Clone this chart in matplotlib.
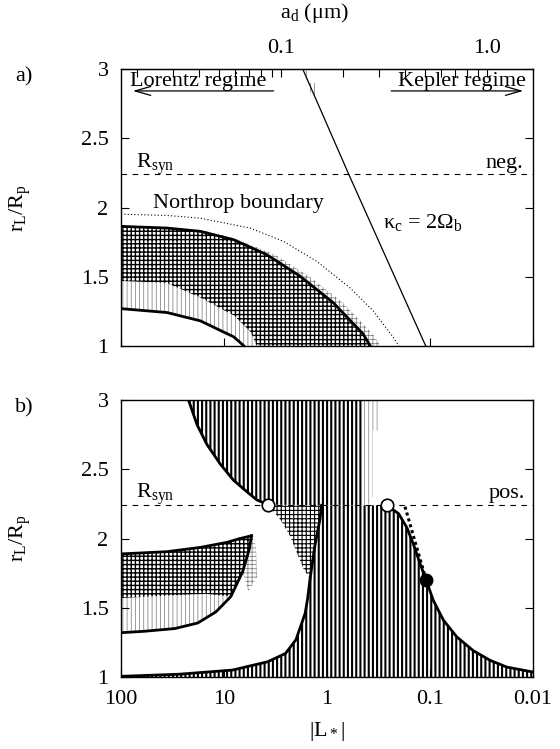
import numpy as np
import matplotlib.pyplot as plt

plt.rcParams['font.family'] = ['Liberation Serif', 'DejaVu Serif']
plt.rcParams['mathtext.fontset'] = 'custom'
plt.rcParams['mathtext.rm'] = 'Liberation Serif'
plt.rcParams['mathtext.it'] = 'Liberation Serif:italic'
plt.rcParams['font.size'] = 16

# ---------------- data (L = |L*|, r = r_L/R_p) ----------------
R_SYN = 2.24

# panel a) negative grains
north_L = [100, 35.8, 17.0, 5.57, 2.65, 1.26, 0.60, 0.356, 0.227, 0.20]
north_r = [1.952, 1.943, 1.923, 1.852, 1.756, 1.612, 1.421, 1.254, 1.062, 1.0]
outer_a_L = [100, 35.8, 17.0, 8.09, 3.85, 1.83, 0.87, 0.445, 0.38]
outer_a_r = [1.864, 1.852, 1.828, 1.768, 1.660, 1.505, 1.313, 1.086, 1.0]
inner_a_L = [100, 35.8, 17.0, 8.09, 7.2, 6.4]
inner_a_r = [1.270, 1.242, 1.182, 1.067, 1.035, 1.0]
mid_a_L = [100, 36, 17, 8, 5.5, 4.8]
mid_a_r = [1.47, 1.455, 1.35, 1.22, 1.10, 1.0]
fringe_a_L = [100, 17, 8.1, 3.2, 1.5, 0.70, 0.36, 0.30]
fringe_a_r = [1.87, 1.84, 1.78, 1.66, 1.505, 1.313, 1.086, 1.0]
kap_L = [1.72, 0.61, 0.11]
kap_r = [3.0, 2.234, 1.0]
kap_fr_L = [1.72, 1.45, 1.45, 1.30, 1.30, 1.40]
kap_fr_r = [3.0, 3.0, 2.9, 2.9, 2.80, 2.80]

# panel b) positive grains
lobe_up_L = [100, 35.8, 17, 9.4, 7.0, 5.4]
lobe_up_r = [1.889, 1.905, 1.936, 1.972, 2.0, 2.02]
lobe_lo_L = [5.4, 5.7, 6.6, 8.6, 12, 18, 30, 60, 100]
lobe_lo_r = [2.02, 1.92, 1.76, 1.58, 1.47, 1.39, 1.35, 1.33, 1.32]
lobe_mid_L = [8.6, 15, 30, 100]
lobe_mid_r = [1.58, 1.60, 1.59, 1.57]
lobe_fr_L = [5.4, 4.9, 4.8, 5.8, 6.6, 5.7]
lobe_fr_r = [2.02, 1.95, 1.72, 1.62, 1.76, 1.92]

upleft_L = [22.1, 18.3, 14.7, 10.9, 8.09, 6.0, 4.81, 3.71]
upleft_r = [3.0, 2.823, 2.681, 2.539, 2.421, 2.338, 2.279, 2.244]
block_edge_L = 0.45
block_fr_L = [0.45, 0.32, 0.32, 0.36, 0.36, 0.40, 0.45]
block_fr_r = [3.0, 3.0, 2.78, 2.78, 2.30, 2.24, 2.24]

bot_L = [100, 27.6, 8.3, 3.77, 2.53, 2.0, 1.63, 1.54, 1.46, 1.31, 1.17, 1.13]
bot_r = [1.005, 1.02, 1.05, 1.11, 1.17, 1.27, 1.46, 1.57, 1.71, 1.95, 2.14, 2.24]
right_L = [0.264, 0.202, 0.168, 0.145, 0.125, 0.109, 0.093, 0.074, 0.055, 0.038, 0.026, 0.018, 0.01]
right_r = [2.24, 2.18, 2.08, 1.96, 1.82, 1.70, 1.554, 1.41, 1.29, 1.19, 1.12, 1.072, 1.036]

wedge_L = [3.71, 2.86, 2.29, 1.97, 1.69, 1.46, 1.31, 1.17, 1.13]
wedge_r = [2.24, 2.14, 2.02, 1.90, 1.78, 1.71, 1.95, 2.14, 2.24]

dot_L = [0.175, 0.109]
dot_r = [2.23, 1.70]
open_L = [3.71, 0.264]
open_r = [2.24, 2.24]
filled_L = [0.109]
filled_r = [1.70]

yticks = [1, 1.5, 2, 2.5, 3]
ytick_labels = ['1', '1.5', '2', '2.5', '3']
xticks = [100, 10, 1, 0.1, 0.01]
xtick_labels = ['100', '10', '1', '0.1', '0.01']
ad_major = [0.1, 1.0]
ad_labels = ['0.1', '1.0']
ad_minor = [0.02, 0.03, 0.04, 0.05, 0.06, 0.07, 0.08, 0.09,
            0.2, 0.3, 0.4, 0.5, 0.6, 0.7, 0.8, 0.9, 2.0]


def hatched(ax, L, r, hatch, color='k', lw=0.8, z=1):
    p = ax.fill(L, r, facecolor='none', edgecolor=color, hatch=hatch,
                linewidth=0, zorder=z)[0]
    try:
        p.set_hatch_linewidth(lw)
    except AttributeError:
        pass
    return p


def frame(ax):
    ax.set_xscale('log')
    ax.set_xlim(100, 0.01)
    ax.set_ylim(1, 3)
    ax.set_yticks(yticks, ytick_labels)
    ax.set_xticks(xticks, xtick_labels)
    ax.minorticks_off()
    ax.tick_params(direction='in', length=6, width=0.8, right=True, pad=9)
    for s in ax.spines.values():
        s.set_linewidth(1.0)
    ax.axhline(R_SYN, color='k', lw=0.8, ls=(0, (5, 5)), zorder=3)


fig = plt.figure(figsize=(5.6, 7.49), dpi=100)
ax_a = fig.add_axes([0.2161, 0.538, 0.7357, 0.3698])
ax_b = fig.add_axes([0.2161, 0.0961, 0.7357, 0.3698])

# ---------------- panel a ----------------
frame(ax_a)
ax_a.tick_params(labelbottom=False)

dark_L = outer_a_L + mid_a_L[::-1]
dark_r = outer_a_r + mid_a_r[::-1]
hatched(ax_a, dark_L, dark_r, '++++', lw=1.0)
light_L = mid_a_L + inner_a_L[::-1]
light_r = mid_a_r + inner_a_r[::-1]
hatched(ax_a, light_L, light_r, '||||', color='0.45', lw=0.5)
hatched(ax_a, outer_a_L + fringe_a_L[::-1], outer_a_r + fringe_a_r[::-1],
        '++++', color='0.45', lw=0.5)
hatched(ax_a, kap_fr_L, kap_fr_r, '||||', color='0.45', lw=0.5)

ax_a.plot(north_L, north_r, color='k', lw=0.8, ls=(0, (1, 2)), zorder=4)
ax_a.plot(outer_a_L, outer_a_r, color='k', lw=2.0, zorder=5)
ax_a.plot(inner_a_L, inner_a_r, color='k', lw=2.0, zorder=5)
ax_a.plot(kap_L, kap_r, color='k', lw=0.9, zorder=5)

ax_a.text(0.037, 2.285, r'R$_\mathrm{syn}$', transform=ax_a.get_yaxis_transform(),
          ha='left', va='baseline')
ax_a.text(0.977, 2.285, 'neg.', transform=ax_a.get_yaxis_transform(),
          ha='right', va='baseline')
ax_a.text(0.078, 2.0, 'Northrop boundary', transform=ax_a.get_yaxis_transform(),
          ha='left', va='baseline')
ax_a.text(0.635, 1.85, r'κ$_\mathrm{c}$ = 2Ω$_\mathrm{b}$',
          transform=ax_a.get_yaxis_transform(), ha='left', va='baseline')

ax_a.text(0.022, 0.94, 'Lorentz regime', transform=ax_a.transAxes,
          ha='left', va='baseline')
ax_a.annotate('', xy=(0.022, 0.921), xytext=(0.377, 0.921), xycoords='axes fraction',
              arrowprops=dict(arrowstyle='->,head_length=0.7,head_width=0.2', lw=0.9))
ax_a.text(0.983, 0.94, 'Kepler regime', transform=ax_a.transAxes,
          ha='right', va='baseline')
ax_a.annotate('', xy=(0.983, 0.921), xytext=(0.649, 0.921), xycoords='axes fraction',
              arrowprops=dict(arrowstyle='->,head_length=0.7,head_width=0.2', lw=0.9))

# grain radius axis on top: a_d ~ L^-1/2
L0 = 2.8
top = ax_a.secondary_xaxis('top', functions=(lambda L: 0.1 * np.sqrt(L0 / np.clip(L, 1e-9, None)),
                                              lambda a: L0 * (0.1 / np.clip(a, 1e-9, None)) ** 2))
top.set_xticks(ad_major, ad_labels)
top.set_xticks(ad_minor, minor=True)
top.tick_params(which='both', direction='in', length=6, width=0.8, pad=8)
fig.text(0.561, 0.982, r'a$_\mathrm{d}$ (μm)', ha='center', va='center')

# ---------------- panel b ----------------
frame(ax_b)

central_L = bot_L + right_L + [0.01, 100]
central_r = bot_r + right_r + [1.0, 1.0]
hatched(ax_b, central_L, central_r, '||||', lw=1.5)
block_L = upleft_L + [block_edge_L, block_edge_L]
block_r = upleft_r + [R_SYN, 3.0]
hatched(ax_b, block_L, block_r, '||||', lw=1.5)
hatched(ax_b, block_fr_L, block_fr_r, '||||', color='0.5', lw=0.5)
hatched(ax_b, wedge_L, wedge_r, '++++', lw=0.8)

ld_L = lobe_up_L + lobe_lo_L[1:4] + lobe_mid_L[1:]
ld_r = lobe_up_r + lobe_lo_r[1:4] + lobe_mid_r[1:]
hatched(ax_b, ld_L, ld_r, '++++', lw=1.0)
ll_L = lobe_mid_L + lobe_lo_L[4:][::-1]
ll_r = lobe_mid_r + lobe_lo_r[4:][::-1]
hatched(ax_b, ll_L, ll_r, '||||', color='0.45', lw=0.5)
hatched(ax_b, lobe_fr_L, lobe_fr_r, '++++', color='0.45', lw=0.5)

ax_b.plot(lobe_up_L, lobe_up_r, color='k', lw=2.0, zorder=5)
ax_b.plot(lobe_lo_L, lobe_lo_r, color='k', lw=2.0, zorder=5)
ax_b.plot(upleft_L, upleft_r, color='k', lw=2.0, zorder=5)
ax_b.plot(bot_L, bot_r, color='k', lw=2.0, zorder=5)
ax_b.plot(right_L, right_r, color='k', lw=2.0, zorder=5)
ax_b.plot(dot_L, dot_r, color='k', lw=2.2, ls=(0, (1, 1)), zorder=5)
ax_b.plot(open_L, open_r, 'o', ms=9, mfc='white', mec='k', mew=1.2, zorder=6)
ax_b.plot(filled_L, filled_r, 'o', ms=9, mfc='k', mec='k', zorder=6)

ax_b.text(0.037, 2.29, r'R$_\mathrm{syn}$', transform=ax_b.get_yaxis_transform(),
          ha='left', va='baseline')
ax_b.text(0.98, 2.29, 'pos.', transform=ax_b.get_yaxis_transform(),
          ha='right', va='baseline')
ax_b.set_xlabel(r'|L$_*$|', labelpad=8)

fig.text(0.043, 0.897, 'a)', ha='center', va='center')
fig.text(0.043, 0.455, 'b)', ha='center', va='center')
fig.text(0.036, 0.538 + 0.3698 / 2, r'r$_\mathrm{L}$/R$_\mathrm{p}$', rotation=90,
         ha='center', va='center')
fig.text(0.036, 0.0961 + 0.3698 / 2, r'r$_\mathrm{L}$/R$_\mathrm{p}$', rotation=90,
         ha='center', va='center')

fig.savefig('out.png', dpi=100)
